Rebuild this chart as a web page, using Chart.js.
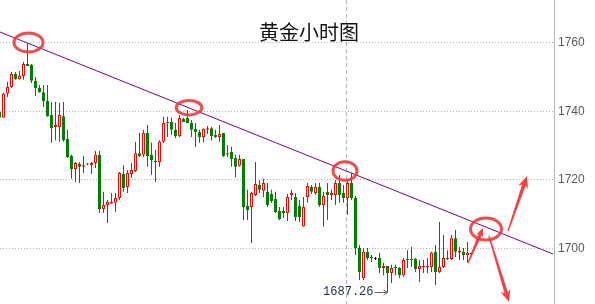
<!DOCTYPE html>
<html>
<head>
<meta charset="utf-8">
<title>黄金小时图</title>
<script src="https://cdn.jsdelivr.net/npm/chart.js@4.4.1/dist/chart.umd.min.js"></script>
<style>
html,body{margin:0;padding:0;background:#fff;overflow:hidden;}
#wrap{position:relative;width:595px;height:304px;}
#c{position:absolute;left:0;top:0;}
#title{position:absolute;left:209px;top:22px;width:200px;text-align:center;font:20px/20px "Noto Sans CJK SC",sans-serif;color:#111;pointer-events:none;}
</style>
</head>
<body>
<div id="wrap"><canvas id="c" width="595" height="304"></canvas><div id="title">黄金小时图</div></div>
<script>
// ---- data (hourly gold candles) ----
const opens = [
1739.8,1738.1,1745.1,1747.1,1750.9,1749.4,1750.3,1753.8,1753.5,1748.9,
1746.8,1745.6,1743.0,1738.9,1735.4,1735.4,1738.6,1731.9,1727.0,1723.2,
1724.6,1723.8,1724.8,1724.3,1724.9,1727.3,1711.5,1712.7,1713.1,1713.3,
1714.7,1721.7,1717.9,1721.7,1722.6,1727.8,1727.3,1733.7,1727.3,1725.5,
1725.2,1731.1,1736.5,1736.9,1734.6,1732.8,1737.8,1738.1,1736.6,1734.9,
1734.0,1732.5,1734.6,1735.1,1733.1,1732.5,1733.7,1727.4,1728.1,1726.4,
1724.1,1726.1,1712.4,1712.1,1715.6,1718.5,1716.8,1716.5,1715.9,1714.4,
1710.9,1710.9,1710.3,1715.6,1715.0,1712.4,1706.5,1715.0,1717.9,1716.2,
1717.9,1712.7,1716.5,1715.6,1715.6,1719.1,1716.2,1714.7,1719.1,1714.7,
1700.1,1691.4,1699.0,1697.5,1697.0,1697.2,1694.3,1694.9,1692.8,1694.6,
1694.3,1692.2,1696.9,1696.9,1696.9,1694.0,1694.4,1694.4,1694.6,1699.0,
1693.1,1694.6,1697.2,1696.9,1703.0,1698.8,1699.0,1698.1,1698.5];
const closes = [
1738.1,1745.1,1747.1,1750.9,1749.4,1750.3,1753.8,1753.2,1748.9,1746.8,
1745.6,1743.0,1738.6,1735.1,1736.0,1738.9,1731.6,1726.7,1723.2,1724.9,
1723.8,1724.3,1724.5,1724.9,1727.3,1711.5,1712.7,1713.6,1713.6,1714.7,
1722.0,1717.6,1722.0,1722.9,1727.8,1727.0,1733.7,1727.0,1725.8,1725.2,
1731.1,1736.6,1736.9,1734.6,1732.8,1738.1,1736.9,1736.6,1734.6,1734.0,
1732.5,1734.9,1735.1,1732.8,1732.5,1733.4,1727.0,1727.8,1726.1,1723.8,
1726.1,1712.1,1711.2,1716.2,1718.8,1717.1,1719.1,1712.7,1713.8,1710.6,
1708.6,1710.3,1715.0,1716.2,1709.2,1709.2,1712.1,1718.2,1716.5,1717.9,
1712.7,1715.3,1715.6,1716.2,1719.1,1715.6,1714.7,1719.1,1714.7,1700.1,
1693.1,1699.0,1697.2,1697.1,1697.0,1694.3,1694.9,1692.8,1694.3,1694.3,
1692.2,1696.6,1696.6,1696.6,1694.0,1694.9,1694.9,1694.9,1698.7,1693.1,
1694.6,1697.2,1696.9,1703.0,1699.0,1699.3,1698.1,1698.7,1698.5];
const highs = [
1741.0,1745.4,1748.6,1751.5,1751.5,1751.8,1754.4,1759.9,1753.8,1750.0,
1747.7,1747.7,1747.7,1742.7,1742.7,1742.4,1742.7,1734.6,1727.3,1725.2,
1725.2,1727.0,1724.9,1725.2,1728.4,1728.4,1716.5,1714.1,1716.2,1716.2,
1722.3,1724.3,1722.9,1724.9,1731.1,1733.7,1734.6,1736.0,1730.8,1728.7,
1731.6,1738.4,1738.4,1738.1,1736.6,1738.9,1738.1,1740.4,1737.5,1736.6,
1734.6,1735.1,1735.7,1735.4,1734.6,1736.0,1733.7,1730.2,1729.6,1727.3,
1727.3,1726.1,1717.1,1716.5,1725.2,1720.0,1720.3,1719.1,1717.1,1716.5,
1712.1,1712.1,1715.9,1717.1,1716.2,1714.1,1715.0,1719.1,1718.5,1719.1,
1719.1,1716.5,1719.1,1717.1,1720.0,1721.4,1718.5,1720.0,1722.0,1715.3,
1701.0,1700.1,1700.1,1698.1,1697.5,1698.7,1695.8,1694.9,1695.2,1695.2,
1694.6,1697.2,1699.5,1700.4,1697.2,1696.6,1696.6,1697.2,1699.0,1701.0,
1707.7,1703.9,1699.5,1703.9,1705.4,1700.4,1700.1,1701.9,1698.7];
const lows = [
1737.5,1738.1,1744.2,1746.8,1749.2,1749.2,1749.2,1753.2,1748.3,1744.5,
1745.4,1741.3,1738.4,1730.8,1731.6,1731.1,1731.1,1726.4,1720.3,1719.4,
1719.1,1722.0,1724.3,1721.7,1723.5,1710.3,1710.3,1707.4,1713.0,1710.6,
1714.1,1716.5,1716.2,1720.6,1722.3,1726.7,1726.7,1723.8,1721.4,1719.4,
1723.8,1730.8,1732.5,1733.1,1732.2,1732.5,1736.9,1736.6,1732.5,1729.6,
1730.8,1730.8,1733.4,1731.4,1732.2,1731.1,1726.7,1726.7,1723.8,1720.8,
1723.8,1708.3,1708.3,1701.6,1715.3,1716.2,1715.0,1712.1,1713.3,1710.3,
1708.3,1708.9,1708.0,1714.1,1708.0,1707.7,1706.3,1713.3,1715.9,1715.6,
1712.1,1706.3,1708.3,1714.1,1712.7,1713.3,1713.3,1709.8,1714.1,1698.1,
1690.8,1690.8,1696.6,1696.0,1696.6,1692.8,1692.2,1687.26,1689.9,1692.2,
1691.4,1691.7,1694.3,1694.6,1693.1,1690.2,1692.8,1692.8,1693.1,1689.3,
1692.8,1694.3,1696.6,1696.6,1697.5,1696.6,1696.6,1695.8,1698.4];
const yTicks = [1700, 1720, 1740, 1760];
const yRange = [1683.78, 1772.49];
const xRange = [0.125, 138.625];
const trendLine = [{x: 0.125, y: 1763.15}, {x: 138.375, y: 1698.37}];
const crossIndex = 87;
const lowPoint = {x: 97, y: 1687.26, text: '1687.26'};
const circleCenters = [{x: 7.25, y: 1760.09}, {x: 47.375, y: 1741.06}, {x: 86.375, y: 1722.59}, {x: 121.625, y: 1705.67}];
const arrowPoints = [
  {from: {x: 117.125, y: 1695.75}, to: {x: 120.875, y: 1705.96}},
  {from: {x: 127.125, y: 1705.08}, to: {x: 131.875, y: 1721.13}},
  {from: {x: 122.375, y: 1703.63}, to: {x: 127.375, y: 1684.37}}
];

// ---- styles ----
const UP = '#ff0000', DOWN = '#008000', FLAT = '#000000';
const circleRadii = [[14.5, 9.5], [12.8, 7.2], [12, 9.3], [15.5, 11]];
const arrowHead = [9, 12, 12];

const idx = opens.map((_, i) => i);
const colorOf = i => closes[i] === opens[i] ? FLAT : (closes[i] > opens[i] ? UP : DOWN);
const bodyData = idx.map(i => {
  let a = opens[i], b = closes[i];
  if (Math.abs(a - b) < 0.3) { const m = (a + b) / 2; a = m - 0.15; b = m + 0.15; }
  return {x: i, y: [a, b]};
});
const wickData = idx.map(i => ({x: i, y: [lows[i], highs[i]]}));

function drawArrow(ctx, x0, y0, x1, y1, head) {
  const dx = x1 - x0, dy = y1 - y0, L = Math.hypot(dx, dy);
  const ux = dx / L, uy = dy / L, nx = -uy, ny = ux;
  const w0 = 0.7, w1 = 1.8, hw = head * 0.42;
  const bx = x1 - ux * head, by = y1 - uy * head;
  const nbx = x1 - ux * head * 0.8, nby = y1 - uy * head * 0.8;
  ctx.beginPath();
  ctx.moveTo(x0 + nx * w0, y0 + ny * w0);
  ctx.lineTo(nbx + nx * w1, nby + ny * w1);
  ctx.lineTo(bx + nx * hw, by + ny * hw);
  ctx.lineTo(x1, y1);
  ctx.lineTo(bx - nx * hw, by - ny * hw);
  ctx.lineTo(nbx - nx * w1, nby - ny * w1);
  ctx.lineTo(x0 - nx * w0, y0 - ny * w0);
  ctx.closePath();
  ctx.fill();
}

const overlay = {
  id: 'overlay',
  beforeDatasetsDraw(chart) {
    const {ctx, chartArea: a, scales: {x}} = chart;
    const px = Math.round(x.getPixelForValue(crossIndex)) - 0.5 - 1;
    ctx.save();
    ctx.strokeStyle = '#b4b4b4'; ctx.lineWidth = 1; ctx.setLineDash([4, 3]);
    ctx.beginPath(); ctx.moveTo(px, a.top); ctx.lineTo(px, a.bottom); ctx.stroke();
    ctx.restore();
  },
  afterDatasetsDraw(chart) {
    const {ctx, scales: {x, y}} = chart;
    ctx.save();
    ctx.strokeStyle = 'rgba(238,58,58,0.9)'; ctx.lineWidth = 3;
    circleCenters.forEach((c, k) => {
      ctx.beginPath();
      ctx.ellipse(x.getPixelForValue(c.x), y.getPixelForValue(c.y), circleRadii[k][0], circleRadii[k][1], 0, 0, Math.PI * 2);
      ctx.stroke();
    });
    ctx.fillStyle = 'rgba(245,55,55,0.95)';
    arrowPoints.forEach((p, k) => {
      drawArrow(ctx, x.getPixelForValue(p.from.x), y.getPixelForValue(p.from.y),
        x.getPixelForValue(p.to.x), y.getPixelForValue(p.to.y), arrowHead[k]);
    });
    const lx = x.getPixelForValue(lowPoint.x), ly = Math.round(y.getPixelForValue(lowPoint.y)) + 0.5;
    ctx.fillStyle = '#1e2b48';
    ctx.font = '12px "Liberation Mono", monospace';
    ctx.textAlign = 'right'; ctx.textBaseline = 'middle';
    ctx.fillText(lowPoint.text, lx - 14, ly - 1);
    ctx.strokeStyle = '#666'; ctx.lineWidth = 1;
    ctx.beginPath(); ctx.moveTo(lx - 13, ly); ctx.lineTo(lx, ly); ctx.stroke();
    ctx.beginPath(); ctx.moveTo(lx - 4, ly - 2.5); ctx.lineTo(lx, ly); ctx.lineTo(lx - 4, ly + 2.5); ctx.stroke();
    ctx.restore();
  }
};

new Chart(document.getElementById('c'), {
  type: 'bar',
  data: {
    datasets: [
      {type: 'line', data: trendLine, borderColor: '#800080', borderWidth: 1, pointRadius: 0, tension: 0, order: 0, fill: false},
      {data: bodyData, backgroundColor: idx.map(i => colorOf(i) === UP ? '#ffffff' : colorOf(i)),
        borderColor: idx.map(colorOf), borderWidth: 1, borderSkipped: false, barThickness: 3,
        grouped: false, inflateAmount: 0, order: 1},
      {data: wickData, backgroundColor: idx.map(colorOf), borderWidth: 0, barThickness: 1,
        grouped: false, inflateAmount: 0, order: 2}
    ]
  },
  options: {
    responsive: false, animation: false, devicePixelRatio: 1, events: [],
    layout: {padding: 0},
    plugins: {legend: {display: false}, tooltip: {enabled: false}, title: {display: false}},
    scales: {
      x: {type: 'linear', min: xRange[0], max: xRange[1], offset: false, display: false, grid: {display: false}},
      y: {
        position: 'right', min: yRange[0], max: yRange[1], beginAtZero: false,
        afterBuildTicks: s => { s.ticks = yTicks.map(v => ({value: v})); },
        afterFit: s => { s.width = 41; s.paddingTop = 0; s.paddingBottom = 0; },
        grid: {color: '#b4b4b4', lineWidth: 1, drawTicks: false},
        border: {display: true, color: '#b4b4b4', width: 1, dash: [1, 2]},
        ticks: {color: '#5a5a5a', padding: 4, font: {family: '"Liberation Sans", Arial, sans-serif', size: 12}, callback: v => String(v)}
      }
    }
  },
  plugins: [overlay]
});
</script>
</body>
</html>
